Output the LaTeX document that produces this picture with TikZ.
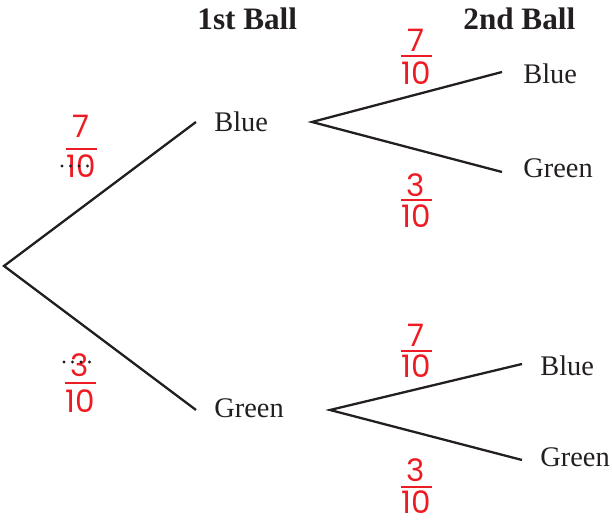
\documentclass[tikz,border=0pt]{standalone}
\usepackage{fontspec}
\setmainfont{Liberation Serif}
\newfontfamily\fracfont{Poppins}
\definecolor{fred}{RGB}{237,28,36}
\definecolor{ink}{RGB}{35,31,32}
\newcommand\frcdraw[6]{% name, x, num baseline, bar y, den baseline, numerator
  \node[frtext] (#1n) at (#2,#3) {#6};
  \draw[frbar] (#2-15.5,#4) -- (#2+15.5,#4);
  \node[frtext] (#1d) at (#2,#5) {10};
}
\begin{document}
\begin{tikzpicture}[x=0.5pt,y=-0.5pt,
  lbl/.style={anchor=base west,inner sep=0pt,text=ink,font=\fontsize{14.2}{16}\selectfont},
  head/.style={anchor=base west,inner sep=0pt,text=ink,font=\fontsize{15.6}{18}\selectfont\bfseries},
  frtext/.style={anchor=base,inner sep=0pt,text=fred,font=\fracfont\fontsize{15.5}{18}\selectfont},
  frbar/.style={draw=fred,line width=1.1pt},
  branch/.style={draw=ink,line width=1.15pt},
  dotrow/.style={draw=ink,line width=1.7pt,line cap=round,dash pattern=on 0pt off 4.25pt}]
\useasboundingbox (0,0) rectangle (612,522);
% headers
\node[head] (h1) at (197,30) {1st Ball};
\node[head] (h2) at (463,30) {2nd Ball};
% coordinates
\coordinate (root) at (4,266);
\coordinate (b1in) at (196,122);
\coordinate (b1out) at (312,122);
\coordinate (g1in) at (196,410);
\coordinate (g1out) at (330,410);
\coordinate (bbend) at (502,72);
\coordinate (bgend) at (502,172);
\coordinate (gbend) at (522,364);
\coordinate (ggend) at (522,460);
% labels
\node[lbl] (b1) at (214,132) {Blue};
\node[lbl] (g1) at (214,418) {Green};
\node[lbl] (bb) at (523,84) {Blue};
\node[lbl] (bg) at (523,178) {Green};
\node[lbl] (gb) at (540,376) {Blue};
\node[lbl] (gg) at (540,467) {Green};
% branches
\draw[branch] (b1in) -- (root) -- (g1in);
\draw[branch] (bbend) -- (b1out) -- (bgend);
\draw[branch] (gbend) -- (g1out) -- (ggend);
% fractions
\frcdraw{fa}{81}{138}{149}{178}{7}
\frcdraw{fb}{80}{377}{383}{413}{3}
\frcdraw{fc}{416}{52}{56}{85}{7}
\frcdraw{fd}{416}{197}{200}{228}{3}
\frcdraw{fe}{416}{347}{351}{378}{7}
\frcdraw{ff}{416}{482}{487}{514}{3}
% dots
\coordinate (d1a) at (62,166);
\coordinate (d1b) at (88,166);
\coordinate (d2a) at (64,362);
\coordinate (d2b) at (98,362);
\draw[dotrow] (d1a) -- (d1b);
\draw[dotrow] (d2a) -- (d2b);
\end{tikzpicture}
\end{document}
